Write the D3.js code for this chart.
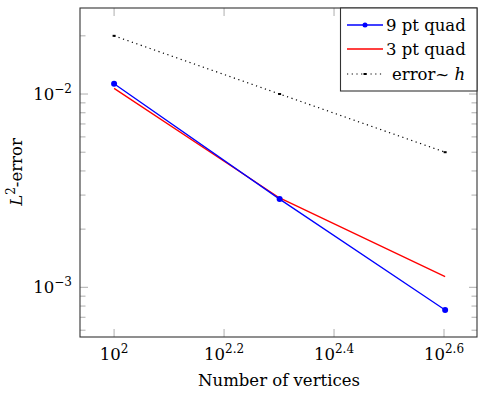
<!DOCTYPE html>
<html><head><meta charset="utf-8">
<script src="https://cdn.jsdelivr.net/npm/d3@7"></script>
<style>html,body{margin:0;padding:0;background:#fff}</style>
</head><body>
<svg id="c" width="478" height="393"></svg>
<script>
const vertices = [100, 200, 400];
const quad9 = [0.0113, 0.00286, 0.000764];
const quad3 = [0.0107, 0.0029, 0.001135];
const errH = [0.02, 0.01, 0.005];
const xTickExp = [2, 2.2, 2.4, 2.6];
const yTickExp = [-3, -2];
const seriesNames = ["9 pt quad", "3 pt quad", "error~ "];

const FONT = "DejaVu Serif";
const FS = 16.5;
const svg = d3.select("#c");
const L = 80, R = 477, T = 8, B = 337;
const x = d3.scaleLog().domain([Math.pow(10, 1.938), Math.pow(10, 2.66)]).range([L, R]);
const y = d3.scaleLog().domain([Math.pow(10, -3.257), Math.pow(10, -1.555)]).range([B, T]);

// ticks
const tickCol = "#999";
const g = svg.append("g");
xTickExp.forEach(e => {
  const px = x(Math.pow(10, e));
  g.append("line").attr("x1", px).attr("x2", px).attr("y1", B).attr("y2", B - 8).attr("stroke", tickCol).attr("stroke-width", 0.8);
  g.append("line").attr("x1", px).attr("x2", px).attr("y1", T).attr("y2", T + 8).attr("stroke", tickCol).attr("stroke-width", 0.8);
  const t = svg.append("text").attr("x", px).attr("y", 360).attr("text-anchor", "middle")
    .attr("font-family", FONT).attr("font-size", FS).attr("fill", "#000");
  t.append("tspan").text("10");
  t.append("tspan").attr("dy", -7).attr("font-size", 12).text(e === 2 ? "2" : e.toFixed(1));
});
const yTicks = [];
for (let d = -4; d <= -1; d++) for (let m = 1; m <= 9; m++) {
  const v = m * Math.pow(10, d);
  if (v >= y.domain()[0] && v <= y.domain()[1]) yTicks.push({v, major: m === 1});
}
yTicks.forEach(t => {
  const py = y(t.v);
  const len = t.major ? 8 : 5.5;
  g.append("line").attr("x1", L).attr("x2", L + len).attr("y1", py).attr("y2", py).attr("stroke", tickCol).attr("stroke-width", 0.8);
  g.append("line").attr("x1", R).attr("x2", R - len).attr("y1", py).attr("y2", py).attr("stroke", tickCol).attr("stroke-width", 0.8);
});
yTickExp.forEach(e => {
  const py = y(Math.pow(10, e));
  const t = svg.append("text").attr("x", 72).attr("y", py + 6).attr("text-anchor", "end")
    .attr("font-family", FONT).attr("font-size", FS).attr("fill", "#000");
  t.append("tspan").text("10");
  t.append("tspan").attr("dy", -7).attr("font-size", 12).text("\u2212" + Math.abs(e));
});

// frame
svg.append("rect").attr("x", L).attr("y", T).attr("width", R - L).attr("height", B - T)
  .attr("fill", "none").attr("stroke", "#333").attr("stroke-width", 1.1);

const line = d3.line().x(d => x(d[0])).y(d => y(d[1]));
const d9 = vertices.map((v, i) => [v, quad9[i]]);
const d3s = vertices.map((v, i) => [v, quad3[i]]);
const dh = vertices.map((v, i) => [v, errH[i]]);

svg.append("path").attr("d", line(dh)).attr("fill", "none").attr("stroke", "#000").attr("stroke-width", 1.2).attr("stroke-dasharray", "1.2,3.5");
dh.forEach(d => svg.append("rect").attr("x", x(d[0]) - 1.5).attr("y", y(d[1]) - 1).attr("width", 3).attr("height", 2).attr("fill", "#000"));
svg.append("path").attr("d", line(d3s)).attr("fill", "none").attr("stroke", "#f00").attr("stroke-width", 1.3);
svg.append("path").attr("d", line(d9)).attr("fill", "none").attr("stroke", "#00f").attr("stroke-width", 1.3);
d9.forEach(d => svg.append("circle").attr("cx", x(d[0])).attr("cy", y(d[1])).attr("r", 3).attr("fill", "#00f"));

// legend
const lg = svg.append("g");
lg.append("rect").attr("x", 340.5).attr("y", T).attr("width", R - 340.5).attr("height", 83)
  .attr("fill", "#fff").attr("stroke", "#333").attr("stroke-width", 1.1);
const ly = [25, 49, 74];
lg.append("line").attr("x1", 347).attr("x2", 383).attr("y1", ly[0]).attr("y2", ly[0]).attr("stroke", "#00f").attr("stroke-width", 1.3);
lg.append("circle").attr("cx", 365).attr("cy", ly[0]).attr("r", 2.5).attr("fill", "#00f");
lg.append("line").attr("x1", 347).attr("x2", 383).attr("y1", ly[1]).attr("y2", ly[1]).attr("stroke", "#f00").attr("stroke-width", 1.3);
lg.append("line").attr("x1", 347).attr("x2", 383).attr("y1", ly[2]).attr("y2", ly[2]).attr("stroke", "#000").attr("stroke-width", 1.2).attr("stroke-dasharray", "1.2,3.5");
lg.append("rect").attr("x", 363.5).attr("y", ly[2] - 1).attr("width", 3).attr("height", 2).attr("fill", "#000");
seriesNames.forEach((n, i) => {
  const t = lg.append("text").attr("x", i === 2 ? 392 : 386).attr("y", ly[i] + 6)
    .attr("font-family", FONT).attr("font-size", FS).attr("fill", "#000").text(n);
  if (i === 2) t.append("tspan").attr("font-style", "italic").text("h");
});

// axis labels
svg.append("text").attr("x", 279).attr("y", 386).attr("text-anchor", "middle")
  .attr("font-family", FONT).attr("font-size", FS).attr("fill", "#000").text("Number of vertices");
const yl = svg.append("text").attr("transform", "translate(22,172) rotate(-90)").attr("text-anchor", "middle")
  .attr("font-family", FONT).attr("font-size", FS).attr("fill", "#000");
yl.append("tspan").attr("font-style", "italic").text("L");
yl.append("tspan").attr("dy", -7).attr("font-size", 12).text("2");
yl.append("tspan").attr("dy", 7).text("-error");
</script>
</body></html>
